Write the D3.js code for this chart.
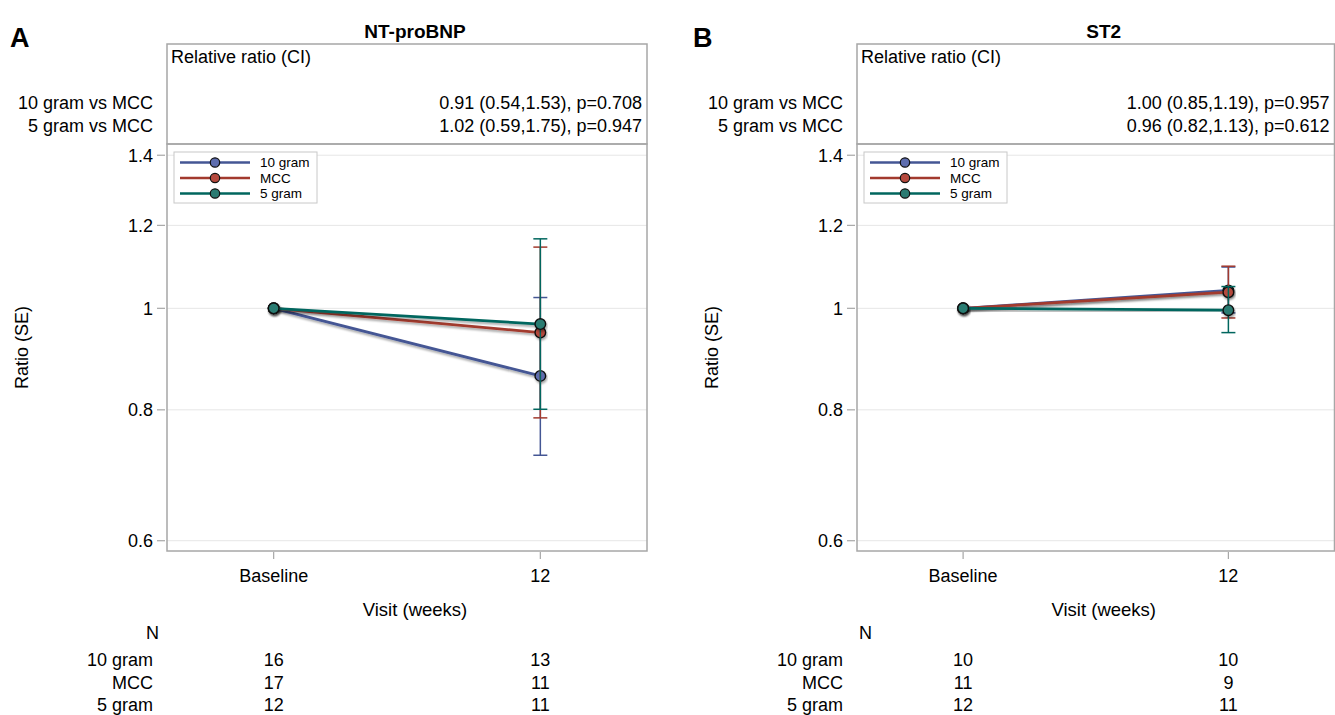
<!DOCTYPE html>
<html lang="en">
<head>
<meta charset="UTF-8">
<script src="https://cdn.jsdelivr.net/npm/d3@7"></script>
<style>
body { margin: 0; background: #fff; font-family: "Liberation Sans", Arial, sans-serif; color: #000; }
.frame { fill: none; stroke: #a7a7a7; stroke-width: 1.5px; }
.grid line { stroke: #e6e6e6; stroke-width: 1px; }
.tick-mark { stroke: #a7a7a7; stroke-width: 1.2px; }
.err { stroke-width: 1.5px; }
</style>
</head>
<body>
<svg id="chart" width="1335" height="715"></svg>
<script>
// ---- data ----
const visits = ["Baseline", "12"];
const groups = ["10 gram", "MCC", "5 gram"];
const yTicks = [0.6, 0.8, 1, 1.2, 1.4];

// Panel A: NT-proBNP
const bnpMean  = [[1, 0.862], [1, 0.948], [1, 0.966]];
const bnpLower = [[null, 0.724], [null, 0.786], [null, 0.801]];
const bnpUpper = [[null, 1.024], [null, 1.144], [null, 1.165]];
const bnpN     = [[16, 13], [17, 11], [12, 11]];
const bnpStats = ["0.91 (0.54,1.53), p=0.708", "1.02 (0.59,1.75), p=0.947"];

// Panel B: ST2
const st2Mean  = [[1, 1.040], [1, 1.036], [1, 0.996]];
const st2Lower = [[null, 0.990], [null, 0.979], [null, 0.948]];
const st2Upper = [[null, 1.095], [null, 1.097], [null, 1.049]];
const st2N     = [[10, 10], [11, 9], [12, 11]];
const st2Stats = ["1.00 (0.85,1.19), p=0.957", "0.96 (0.82,1.13), p=0.612"];

const compLabels = ["10 gram vs MCC", "5 gram vs MCC"];

const lineColors = ["#445694", "#A23A2E", "#01665E"];
const fillColors = ["#5E6DAE", "#B5493D", "#2A7B72"];

const FS = "18px";

const svg = d3.select("#chart");

// soft shadow like SAS lines
const defs = svg.append("defs");
const f = defs.append("filter").attr("id", "shadow")
    .attr("x", "-10%").attr("y", "-50%").attr("width", "130%").attr("height", "200%");
f.append("feDropShadow").attr("dx", 1).attr("dy", 2).attr("stdDeviation", 1)
    .attr("flood-color", "#000").attr("flood-opacity", 0.35);

function drawPanel(opt) {
    const L = opt.left, R = opt.right;
    const headTop = 44, headBottom = 144, plotBottom = 551;

    const x = d3.scalePoint().domain(visits).range([L, R]).padding(0.4);
    const y = d3.scaleLog().domain([0.5866, 1.435]).range([plotBottom, headBottom]);

    const g = svg.append("g");

    // panel letter and title
    g.append("text").attr("x", opt.letterX).attr("y", 47)
        .style("font-size", "27px").style("font-weight", "bold").text(opt.letter);
    g.append("text").attr("x", (L + R) / 2 + 8).attr("y", 38).attr("text-anchor", "middle")
        .style("font-size", "19px").style("font-weight", "bold").text(opt.title);

    // grid
    g.append("g").attr("class", "grid").selectAll("line").data(yTicks).join("line")
        .attr("x1", L).attr("x2", R).attr("y1", d => y(d)).attr("y2", d => y(d));

    // header box
    g.append("rect").attr("class", "frame")
        .attr("x", L).attr("y", headTop).attr("width", R - L).attr("height", headBottom - headTop);
    g.append("text").attr("x", L + 4).attr("y", 63).style("font-size", FS).text("Relative ratio (CI)");
    compLabels.forEach((c, i) => {
        const yy = 109 + i * 23;
        g.append("text").attr("x", L - 14).attr("y", yy).attr("text-anchor", "end")
            .style("font-size", FS).text(c);
        g.append("text").attr("x", R - 5).attr("y", yy).attr("text-anchor", "end")
            .style("font-size", FS).text(opt.stats[i]);
    });

    // plot frame
    g.append("rect").attr("class", "frame")
        .attr("x", L).attr("y", headBottom).attr("width", R - L).attr("height", plotBottom - headBottom);

    // y axis ticks
    yTicks.forEach(t => {
        g.append("line").attr("class", "tick-mark")
            .attr("x1", L - 10).attr("x2", L - 2).attr("y1", y(t)).attr("y2", y(t));
        g.append("text").attr("x", L - 14).attr("y", y(t)).attr("dy", "0.36em")
            .attr("text-anchor", "end").style("font-size", FS).text(d3.format("")(t));
    });
    g.append("text").attr("transform", `translate(${L - 145},${(headBottom + plotBottom) / 2}) rotate(-90)`)
        .attr("text-anchor", "middle").attr("dy", "0.35em").style("font-size", FS).text("Ratio (SE)");

    // x axis
    visits.forEach(v => {
        g.append("line").attr("class", "tick-mark")
            .attr("x1", x(v)).attr("x2", x(v)).attr("y1", plotBottom + 1).attr("y2", plotBottom + 8);
        g.append("text").attr("x", x(v)).attr("y", 576).attr("dy", "0.36em")
            .attr("text-anchor", "middle").style("font-size", FS).text(v);
    });
    g.append("text").attr("x", (L + R) / 2 + 8).attr("y", 609).attr("dy", "0.36em")
        .attr("text-anchor", "middle").style("font-size", "18.5px").text("Visit (weeks)");

    // N table
    g.append("text").attr("x", opt.nX).attr("y", 633).attr("dy", "0.36em")
        .style("font-size", FS).text("N");
    groups.forEach((grp, gi) => {
        const yy = 660 + gi * 22.5;
        g.append("text").attr("x", L - 14).attr("y", yy).attr("dy", "0.36em")
            .attr("text-anchor", "end").style("font-size", FS).text(grp);
        visits.forEach((v, vi) => {
            g.append("text").attr("x", x(v)).attr("y", yy).attr("dy", "0.36em")
                .attr("text-anchor", "middle").style("font-size", FS).text(opt.n[gi][vi]);
        });
    });

    // series
    const line = d3.line().x((d, i) => x(visits[i])).y(d => y(d));
    groups.forEach((grp, gi) => {
        const col = lineColors[gi];
        const sg = g.append("g");
        // error bars
        visits.forEach((v, vi) => {
            const lo = opt.lower[gi][vi], hi = opt.upper[gi][vi];
            if (lo == null || hi == null) return;
            sg.append("line").attr("class", "err").attr("stroke", col)
                .attr("x1", x(v)).attr("x2", x(v)).attr("y1", y(lo)).attr("y2", y(hi));
            [lo, hi].forEach(e => sg.append("line").attr("class", "err").attr("stroke", col)
                .attr("x1", x(v) - 7).attr("x2", x(v) + 7).attr("y1", y(e)).attr("y2", y(e)));
        });
        sg.append("path").datum(opt.mean[gi]).attr("d", line)
            .attr("fill", "none").attr("stroke", col).attr("stroke-width", 2.8)
            .attr("filter", "url(#shadow)");
        sg.selectAll("circle").data(opt.mean[gi]).join("circle")
            .attr("cx", (d, i) => x(visits[i])).attr("cy", d => y(d)).attr("r", 5.3)
            .attr("fill", fillColors[gi]).attr("stroke", "#111").attr("stroke-width", 1.4)
            .attr("filter", "url(#shadow)");
    });

    // legend
    const lg = g.append("g").attr("transform", `translate(${L + 7},152)`);
    lg.append("rect").attr("width", 143).attr("height", 51)
        .attr("fill", "#fff").attr("stroke", "#c8c8c8").attr("stroke-width", 1);
    groups.forEach((grp, gi) => {
        const yy = 10.5 + gi * 15.5;
        lg.append("line").attr("x1", 6).attr("x2", 76).attr("y1", yy).attr("y2", yy)
            .attr("stroke", lineColors[gi]).attr("stroke-width", 2.6);
        lg.append("circle").attr("cx", 41).attr("cy", yy).attr("r", 4.7)
            .attr("fill", fillColors[gi]).attr("stroke", "#111").attr("stroke-width", 1.2);
        lg.append("text").attr("x", 86).attr("y", yy).attr("dy", "0.36em")
            .style("font-size", "13.5px").text(grp);
    });
}

drawPanel({ letter: "A", letterX: 10, title: "NT-proBNP", left: 167, right: 647, nX: 146,
    mean: bnpMean, lower: bnpLower, upper: bnpUpper, n: bnpN, stats: bnpStats });
drawPanel({ letter: "B", letterX: 693, title: "ST2", left: 857, right: 1334.5, nX: 859,
    mean: st2Mean, lower: st2Lower, upper: st2Upper, n: st2N, stats: st2Stats });
</script>
</body>
</html>
